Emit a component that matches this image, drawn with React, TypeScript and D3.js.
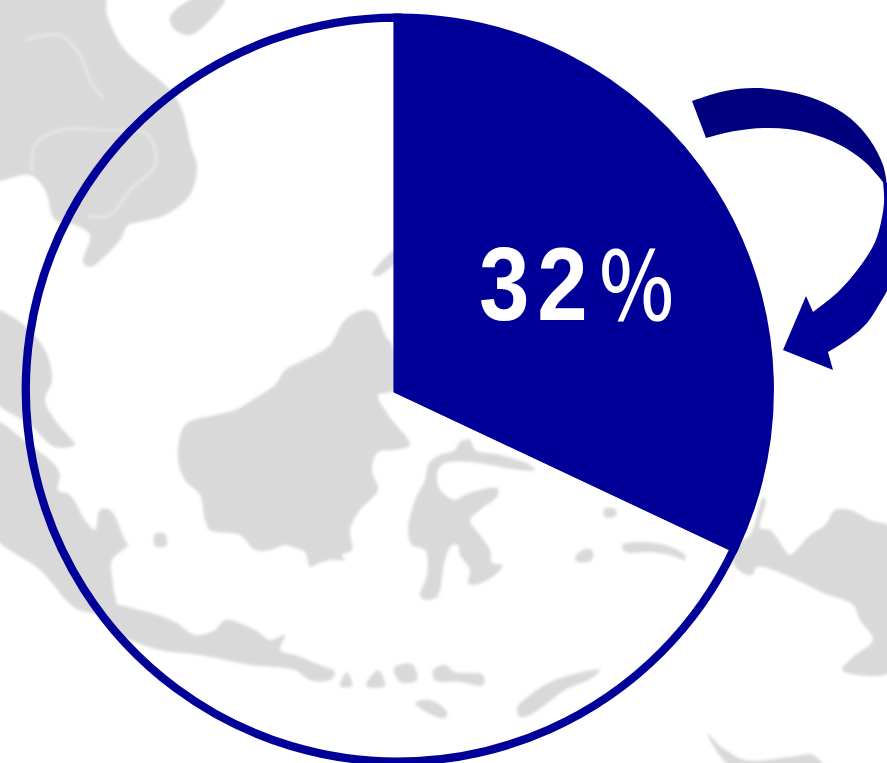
import React from "react";
import * as d3 from "d3";

const W = 887, H = 763;
const shares = [32, 68];
const label = "32";
const labelUnit = "％";
const BLUE = "#000099";
const DARK = "#00007f";
const LAND = "#d9d9d9";

type P = [number, number];

const land: P[][] = [
  // Indochina
  [[-10,-10],[103,-10],[107,15],[125,50],[165,85],[180,105],[192,150],[197,165],[190,195],[165,215],[140,222],[128,225],[120,240],[90,267],[83,262],[90,235],[75,225],[55,220],[45,190],[30,175],[-10,178]],
  // Hainan
  [[170,17],[195,-2],[225,-2],[210,20],[190,35],[175,30]],
  // sliver
  [[372,275],[395,250],[395,262],[378,276]],
  // Malay peninsula
  [[-10,310],[20,322],[45,350],[52,380],[45,400],[55,420],[72,440],[75,445],[55,447],[30,425],[-10,395]],
  // Sumatra
  [[-10,420],[30,445],[55,465],[60,475],[58,490],[70,495],[85,520],[95,530],[100,510],[110,510],[125,540],[128,545],[112,560],[113,585],[115,610],[79,610],[40,570],[-10,530]],
  // Java
  [[105,605],[140,610],[175,622],[195,635],[215,630],[225,620],[255,630],[270,640],[285,635],[280,650],[295,655],[320,665],[335,672],[330,680],[310,680],[295,670],[250,665],[200,655],[160,650],[130,640],[110,630]],
  // Lesser Sunda
  [[340,686],[347,672],[352,686]],
  [[366,686],[378,670],[385,686]],
  [[394,668],[412,664],[417,680],[400,682]],
  [[433,670],[445,665],[455,672],[483,675],[483,685],[460,682],[435,680]],
  [[415,703],[430,700],[447,712],[445,718],[432,715]],
  [[517,708],[530,695],[555,680],[600,670],[592,678],[565,690],[545,705],[530,715],[520,717]],
  // Borneo
  [[363,310],[375,313],[385,335],[392,345],[394,390],[378,395],[385,410],[392,420],[410,445],[395,450],[378,452],[372,470],[378,490],[360,510],[350,530],[352,550],[342,555],[345,560],[330,560],[315,565],[310,567],[305,552],[295,548],[285,545],[270,550],[255,550],[240,535],[210,530],[205,520],[200,495],[185,480],[178,460],[185,425],[215,415],[235,410],[260,395],[275,385],[285,370],[300,362],[320,352],[330,345],[345,320]],
  // Karimata
  [[155,534],[165,534],[166,546],[155,546]],
  // Sulawesi
  [[432,460],[440,455],[455,450],[460,442],[470,440],[475,450],[500,455],[530,465],[535,470],[520,470],[490,465],[470,462],[445,463],[438,470],[438,485],[445,495],[455,500],[465,495],[480,490],[497,488],[498,495],[480,510],[470,520],[480,535],[490,550],[492,563],[503,565],[495,575],[475,585],[468,583],[470,570],[460,555],[458,545],[452,545],[445,560],[440,590],[437,597],[425,600],[420,595],[427,575],[425,550],[412,545],[408,530],[415,500],[425,480],[428,465]],
  // Moluccas
  [[604,509],[615,509],[616,516],[605,517]],
  [[575,558],[583,550],[592,550],[592,560],[578,562]],
  [[622,545],[640,542],[665,545],[685,555],[685,560],[670,555],[650,552],[625,552]],
  // New Guinea
  [[735,545],[750,535],[763,497],[766,500],[760,528],[770,530],[785,550],[790,555],[810,535],[825,525],[835,510],[850,510],[870,520],[895,530],[895,670],[842,670],[853,657],[873,640],[860,620],[853,605],[823,593],[790,577],[757,567],[752,575],[743,573],[733,563]],
  // Australia
  [[707,733],[723,748],[745,760],[790,757],[813,755],[825,770],[735,770]],
];

const rivers: P[][] = [
  [[25,40],[60,35],[80,55],[90,80],[103,98]],
  [[32,172],[35,145],[60,130],[100,130],[148,135],[155,165],[130,190],[110,215],[88,216]],
];

const bandOuter: P[] = [[692,101],[725,91],[757,88],[795,93],[825,103],[850,118],[870,140],[883,165],[887,185]];
const bandInner: P[] = [[883,182],[865,162],[840,145],[805,132],[770,128],[735,131],[706,138]];
const shaftInner: P[] = [[883,182],[884,203],[877,237],[866,258],[840,290],[813,312]];
const head: P[] = [[806,296],[783,350],[833,370],[828,352]];
const shaftOuter: P[] = [[828,352],[850,338],[867,323],[880,303],[890,284],[900,240],[900,190],[883,182]];

export default function App() {
  const cx = 397.8, cy = 389.6, r = 372;
  const pie = d3.pie<number>().sort(null)(shares);
  const arc = d3.arc<d3.PieArcDatum<number>>().innerRadius(0).outerRadius(r);
  const blob = d3.line().curve(d3.curveCatmullRomClosed.alpha(0.5));
  const open = d3.line().curve(d3.curveCatmullRom.alpha(0.5));
  const seg = (pts: P[]) => (open(pts) as string);
  const band = seg(bandOuter) + "L" + seg(bandInner).slice(1) + "Z";
  const lower =
    seg(shaftInner) +
    "L" + head.map((p) => p.join(",")).join("L") +
    "L" + seg(shaftOuter).slice(1) + "Z";

  return (
    <svg
      width={W}
      height={H}
      viewBox={`0 0 ${W} ${H}`}
      style={{ position: "absolute", left: 0, top: 0, background: "#fff" }}
    >
      <defs>
        <filter id="soft" x="-5%" y="-5%" width="110%" height="110%">
          <feGaussianBlur stdDeviation="1.6" />
        </filter>
      </defs>
      <g filter="url(#soft)">
        {land.map((pts, i) => (
          <path key={i} d={blob(pts) as string} fill={LAND} />
        ))}
        {rivers.map((pts, i) => (
          <path key={i} d={seg(pts)} fill="none" stroke="#e6e6e6" strokeWidth={3} />
        ))}
      </g>
      <g transform={`translate(${cx},${cy})`}>
        {pie.map((d, i) => (
          <path
            key={i}
            d={arc(d) as string}
            fill={i === 0 ? BLUE : "none"}
            stroke={BLUE}
            strokeWidth={8.3}
          />
        ))}
      </g>
      <path d={lower} fill={BLUE} />
      <path d={band} fill={DARK} />
      <text
        transform="translate(479,320) scale(0.88,1)"
        fill="#fff"
        fontFamily="'Liberation Sans', Arial, sans-serif"
        fontWeight={700}
        fontSize={103}
        letterSpacing={9}
      >
        {label}
      </text>
      <text
        transform="translate(597,321) scale(0.92,1.1)"
        fill="#fff"
        fontFamily="'Noto Sans CJK JP'"
        fontWeight={500}
        fontSize={86}
      >
        {labelUnit}
      </text>
    </svg>
  );
}
